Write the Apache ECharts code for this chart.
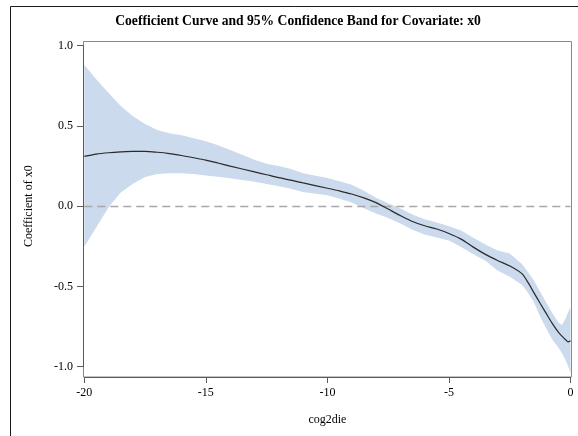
<!DOCTYPE html>
<html>
<head>
<meta charset="utf-8">
<title>Coefficient Curve and 95% Confidence Band for Covariate: x0</title>
<script src="https://cdn.jsdelivr.net/npm/echarts@6/dist/echarts.min.js"></script>
<style>
  html, body { margin: 0; padding: 0; background: #fff; }
  #chart { width: 578px; height: 436px; }
</style>
</head>
<body>
<div id="chart"></div>
<script>
// cog2die positions at which the coefficient was evaluated
const cog2die = [-20, -19.5, -19, -18.5, -18, -17.5, -17, -16.5, -16, -15.5, -15, -14.5, -14,
  -13, -12.5, -12, -11.5, -11, -10, -9.5, -9, -8.5, -8, -7.5, -7, -6.5, -6, -5.5, -5, -4.5,
  -4, -3.5, -3, -2.5, -2, -1.75, -1.5, -1.25, -1, -0.75, -0.5, -0.35, -0.2, -0.1, 0];

// estimated coefficient of x0
const estimate = [0.31, 0.325, 0.333, 0.338, 0.341, 0.341, 0.336, 0.328, 0.316, 0.302, 0.287, 0.269, 0.25,
  0.214, 0.196, 0.178, 0.162, 0.145, 0.112, 0.095, 0.076, 0.052, 0.022, -0.018, -0.058, -0.095, -0.122, -0.142, -0.17, -0.205,
  -0.255, -0.3, -0.338, -0.372, -0.42, -0.475, -0.54, -0.605, -0.668, -0.73, -0.785, -0.81, -0.832, -0.845, -0.838];

// upper and lower limits of the 95% confidence band
const upperCI = [0.88, 0.79, 0.705, 0.625, 0.56, 0.512, 0.475, 0.455, 0.442, 0.424, 0.405, 0.38, 0.35,
  0.29, 0.265, 0.25, 0.232, 0.205, 0.176, 0.155, 0.133, 0.097, 0.053, 0.018, -0.014, -0.052, -0.082, -0.102, -0.125, -0.152,
  -0.197, -0.238, -0.276, -0.294, -0.36, -0.41, -0.465, -0.533, -0.6, -0.665, -0.725, -0.74, -0.7, -0.66, -0.628];
const lowerCI = [-0.252, -0.13, -0.007, 0.085, 0.14, 0.182, 0.2, 0.205, 0.205, 0.2, 0.192, 0.184, 0.174,
  0.152, 0.139, 0.125, 0.108, 0.088, 0.068, 0.046, 0.023, -0.013, -0.045, -0.074, -0.108, -0.146, -0.176, -0.195, -0.214, -0.254,
  -0.3, -0.34, -0.4, -0.44, -0.49, -0.54, -0.6, -0.688, -0.76, -0.83, -0.88, -0.915, -0.96, -0.995, -1.04];

// axis ticks
const xTicks = [-20, -15, -10, -5, 0];
const yTicks = [-1.0, -0.5, 0.0, 0.5, 1.0];

const FONT = "'Liberation Serif', 'Times New Roman', serif";

const bandPts = cog2die.map((x, i) => [x, lowerCI[i], upperCI[i]]);
const estPts = cog2die.map((x, i) => [x, estimate[i]]);

// The band is one closed polygon: upper limit left to right, lower limit back.
function renderBand(params, api) {
  if (params.dataIndex !== 0) return null;
  const pts = [];
  for (let i = 0; i < cog2die.length; i++) pts.push(api.coord([cog2die[i], upperCI[i]]));
  for (let i = cog2die.length - 1; i >= 0; i--) pts.push(api.coord([cog2die[i], lowerCI[i]]));
  return {
    type: 'polygon',
    shape: { points: pts },
    style: { fill: '#cbdaec', stroke: null },
    silent: true
  };
}

const chart = echarts.init(document.getElementById('chart'), null, { renderer: 'canvas' });

chart.setOption({
  animation: false,
  backgroundColor: '#ffffff',
  textStyle: { fontFamily: FONT, color: '#000' },
  title: {
    text: 'Coefficient Curve and 95% Confidence Band for Covariate: x0',
    left: 293, top: 9, textAlign: 'center',
    textStyle: { fontFamily: FONT, fontSize: 13.6, fontWeight: 'bold', color: '#000' }
  },
  grid: { left: 84.3, right: 7.5, top: 45.7, bottom: 69.3, containLabel: false },
  xAxis: {
    type: 'value',
    min: xTicks[0], max: xTicks[xTicks.length - 1], interval: 5,
    offset: 10.3,
    name: 'cog2die', nameLocation: 'middle', nameGap: 37,
    nameTextStyle: { fontFamily: FONT, fontSize: 12, color: '#000' },
    axisLine: { show: true, onZero: false, lineStyle: { color: '#5a5a5a', width: 1 } },
    axisTick: { show: true, inside: false, length: 6, lineStyle: { color: '#5a5a5a' } },
    axisLabel: { fontFamily: FONT, fontSize: 12, color: '#000', margin: 10,
      showMinLabel: true, showMaxLabel: true, formatter: v => String(v) },
    splitLine: { show: false }
  },
  yAxis: {
    type: 'value',
    min: yTicks[0], max: yTicks[yTicks.length - 1], interval: 0.5,
    offset: 1.3,
    name: 'Coefficient of x0', nameLocation: 'middle', nameGap: 48,
    nameTextStyle: { fontFamily: FONT, fontSize: 12, color: '#000' },
    axisLine: { show: true, onZero: false, lineStyle: { color: '#5a5a5a', width: 1 } },
    axisTick: { show: true, inside: false, length: 6, lineStyle: { color: '#5a5a5a' } },
    axisLabel: { fontFamily: FONT, fontSize: 12, color: '#000', margin: 10,
      formatter: v => v.toFixed(1) },
    splitLine: { show: false }
  },
  graphic: [
    // outer figure border
    { type: 'rect', silent: true, z: -1,
      shape: { x: 10.5, y: 6.5, width: 700, height: 700 },
      style: { fill: null, stroke: '#1a1a1a', lineWidth: 1 } },
    // plot area frame
    { type: 'rect', silent: true, z: 0,
      shape: { x: 83.5, y: 41.5, width: 488, height: 335.5 },
      style: { fill: null, stroke: '#8a8a8a', lineWidth: 1 } }
  ],
  series: [
    {
      name: 'band', type: 'custom', data: bandPts,
      encode: { x: 0, y: [1, 2] },
      renderItem: renderBand, clip: false, silent: true, z: 1
    },
    {
      name: 'estimate', type: 'line', data: estPts,
      showSymbol: false, symbol: 'none', clip: false, smooth: 0.3,
      lineStyle: { color: '#2a2a2a', width: 1.2 }, z: 5,
      markLine: {
        silent: true, symbol: 'none', label: { show: false }, z: 3,
        lineStyle: { color: '#a8a8a8', type: [8, 5], width: 1.3 },
        data: [{ yAxis: 0 }]
      }
    }
  ]
});
</script>
</body>
</html>
